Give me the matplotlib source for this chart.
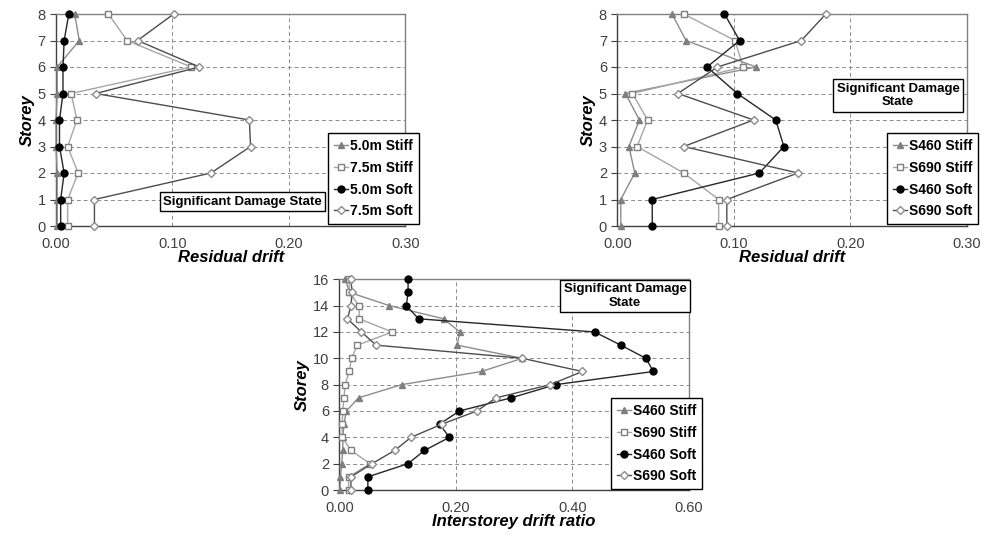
import matplotlib.pyplot as plt
import numpy as np

plt.rcParams['font.family'] = ['Liberation Sans', 'DejaVu Sans']

# storey levels
storeys_8 = np.arange(0, 9)
storeys_16 = np.arange(0, 17)

# Panel 1: residual drift, 8 storey (storey 0..8)
p1_labels = ['5.0m Stiff', '7.5m Stiff', '5.0m Soft', '7.5m Soft']
p1_50_stiff = [0.001, 0.001, 0.001, 0.000, 0.000, 0.001, 0.001, 0.020, 0.016]
p1_75_stiff = [0.010, 0.010, 0.019, 0.010, 0.018, 0.013, 0.116, 0.061, 0.045]
p1_50_soft = [0.004, 0.004, 0.007, 0.003, 0.003, 0.006, 0.006, 0.007, 0.011]
p1_75_soft = [0.033, 0.033, 0.133, 0.167, 0.166, 0.034, 0.123, 0.070, 0.101]

# Panel 2: residual drift, 8 storey, steel grades
p2_labels = ['S460 Stiff', 'S690 Stiff', 'S460 Soft', 'S690 Soft']
p2_460_stiff = [0.003, 0.003, 0.015, 0.010, 0.019, 0.007, 0.119, 0.059, 0.047]
p2_690_stiff = [0.087, 0.087, 0.057, 0.017, 0.026, 0.013, 0.108, 0.101, 0.057]
p2_460_soft = [0.030, 0.030, 0.122, 0.143, 0.136, 0.103, 0.077, 0.105, 0.092]
p2_690_soft = [0.094, 0.094, 0.155, 0.057, 0.117, 0.052, 0.086, 0.158, 0.179]

# Panel 3: interstorey drift ratio, 16 storey
p3_labels = ['S460 Stiff', 'S690 Stiff', 'S460 Soft', 'S690 Soft']
p3_460_stiff = [0.001, 0.002, 0.004, 0.006, 0.006, 0.008, 0.012, 0.033, 0.107,
                0.244, 0.314, 0.202, 0.207, 0.179, 0.086, 0.018, 0.010]
p3_690_stiff = [0.016, 0.016, 0.053, 0.020, 0.005, 0.005, 0.006, 0.008, 0.010,
                0.017, 0.021, 0.031, 0.091, 0.034, 0.034, 0.017, 0.017]
p3_460_soft = [0.049, 0.049, 0.118, 0.146, 0.189, 0.172, 0.206, 0.295, 0.371,
               0.539, 0.526, 0.483, 0.438, 0.136, 0.115, 0.118, 0.118]
p3_690_soft = [0.020, 0.020, 0.056, 0.095, 0.123, 0.176, 0.236, 0.269, 0.362,
               0.417, 0.314, 0.063, 0.038, 0.014, 0.020, 0.022, 0.020]

W, H = 987, 538
fig = plt.figure(figsize=(W / 100, H / 100), dpi=100)


def px_axes(x0, y0, x1, y1):
    return fig.add_axes([x0 / W, 1 - y1 / H, (x1 - x0) / W, (y1 - y0) / H])


styles = [
    dict(color='#8c8c8c', marker='^', markerfacecolor='#7f7f7f', markeredgecolor='#7f7f7f', markersize=5),
    dict(color='#a6a6a6', marker='s', markerfacecolor='white', markeredgecolor='#7f7f7f', markersize=4.5),
    dict(color='#262626', marker='o', markerfacecolor='black', markeredgecolor='black', markersize=5),
    dict(color='#4d4d4d', marker='D', markerfacecolor='white', markeredgecolor='#8c8c8c', markersize=3.8),
]


def draw_panel(ax, series, labels, ys, xmax, xstep, ymax, ystep, xlabel, leg_xy, note, note_xy):
    for vals, lab, st in zip(series, labels, styles):
        ax.plot(vals, ys, label=lab, linewidth=1.0, clip_on=False, zorder=3, **st)
    ax.set_xlim(0, xmax)
    ax.set_ylim(0, ymax)
    ax.set_xticks(np.arange(0, xmax + 1e-9, xstep))
    ax.set_xticklabels([f'{v:.2f}' for v in np.arange(0, xmax + 1e-9, xstep)])
    ax.set_yticks(np.arange(0, ymax + 1, ystep))
    ax.grid(True, linestyle=(0, (4, 3)), color='#8c8c8c', linewidth=0.7)
    ax.set_axisbelow(True)
    for s in ax.spines.values():
        s.set_color('#808080')
        s.set_linewidth(1.0)
    ax.spines['left'].set_color('#404040')
    ax.spines['bottom'].set_color('#404040')
    ax.tick_params(axis='both', labelsize=10.5, colors='#404040', labelcolor='#404040', length=4)
    ax.tick_params(axis='x', length=0, pad=8)
    ax.set_xlabel(xlabel, fontsize=12, fontweight='bold', fontstyle='italic', labelpad=-1)
    ax.set_ylabel('Storey', fontsize=12, fontweight='bold', fontstyle='italic', labelpad=2)
    leg = fig.legend(handles=ax.get_lines(), loc='upper left',
                     bbox_to_anchor=(leg_xy[0] / W, 1 - leg_xy[1] / H),
                     prop=dict(weight='bold', size=10), fancybox=False,
                     edgecolor='black', framealpha=1, handlelength=1.0,
                     handletextpad=0.1, labelspacing=0.55, borderpad=0.45,
                     borderaxespad=0)
    leg.get_frame().set_linewidth(1.0)
    fig.text(note_xy[0] / W, 1 - note_xy[1] / H, note, ha='center', va='center',
             fontsize=9.5, fontweight='bold', multialignment='center',
             bbox=dict(boxstyle='square,pad=0.25', facecolor='white', edgecolor='black', linewidth=1.0))


ax1 = px_axes(56, 14, 405.5, 226)
draw_panel(ax1, [p1_50_stiff, p1_75_stiff, p1_50_soft, p1_75_soft], p1_labels, storeys_8,
           0.30, 0.10, 8, 1, 'Residual drift', (328, 133), 'Significant Damage State', (242.5, 201.5))

ax2 = px_axes(617.3, 14, 966.8, 226)
draw_panel(ax2, [p2_460_stiff, p2_690_stiff, p2_460_soft, p2_690_soft], p2_labels, storeys_8,
           0.30, 0.10, 8, 1, 'Residual drift', (887, 133), 'Significant Damage\nState', (898, 95.5))

ax3 = px_axes(339.3, 279.3, 689, 490)
draw_panel(ax3, [p3_460_stiff, p3_690_stiff, p3_460_soft, p3_690_soft], p3_labels, storeys_16,
           0.60, 0.20, 16, 2, 'Interstorey drift ratio', (611, 398), 'Significant Damage\nState', (625, 296))

fig.savefig('out.png', dpi=100)
